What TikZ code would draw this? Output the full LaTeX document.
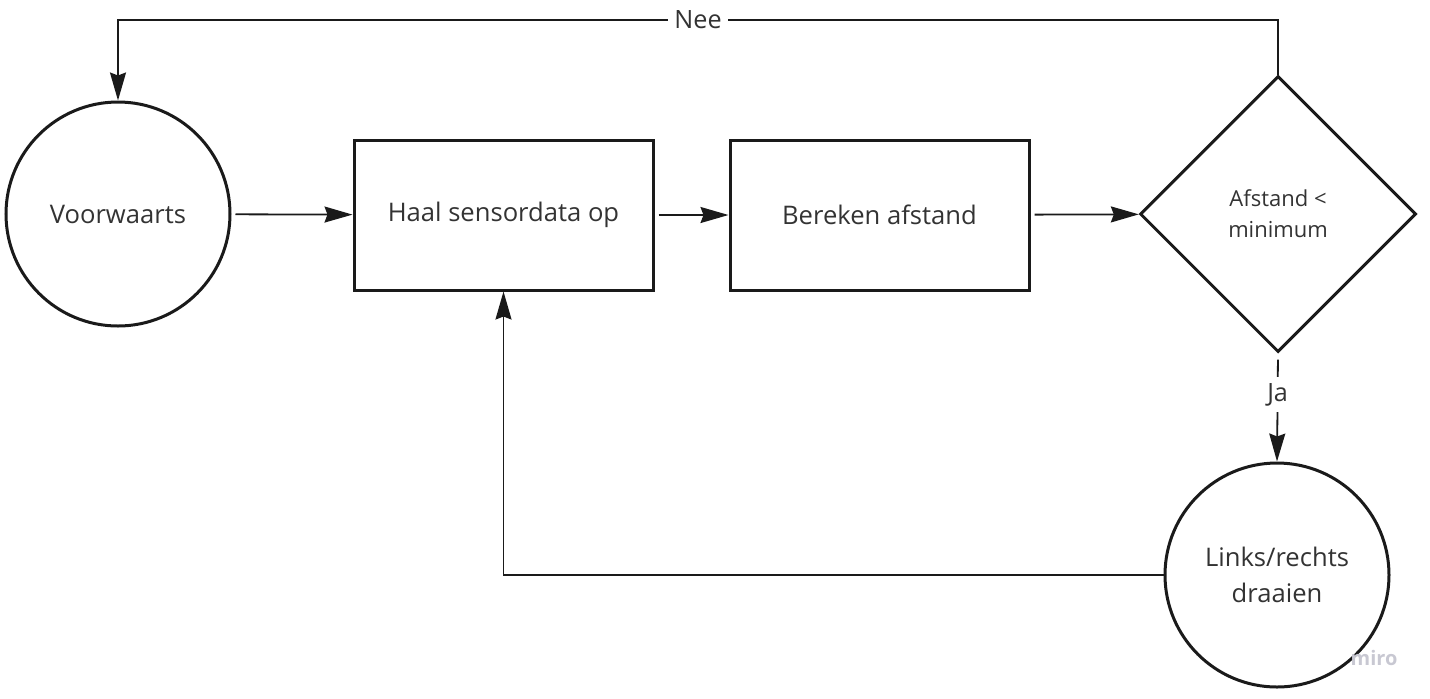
\documentclass[tikz,border=0pt]{standalone}
\usepackage{fontspec}
\setmainfont{Open Sans}
\usetikzlibrary{shapes.geometric,arrows.meta}

\definecolor{inkline}{HTML}{1A1A1A}
\definecolor{inktext}{HTML}{333333}
\definecolor{watermark}{HTML}{C8C8D2}

\begin{document}
\begin{tikzpicture}[
x=0.5pt, y=-0.5pt, % one unit = one pixel of the sketch
flow/.style={draw=inkline, line width=0.9pt, -{Stealth[length=14pt, width=8pt, inset=1.5pt]}},
state/.style={circle, draw=inkline, line width=1.5pt, minimum size=112pt, inner sep=0pt, align=center},
stepbox/.style={rectangle, draw=inkline, line width=1.5pt, minimum width=149.5pt, minimum height=75pt},
choice/.style={diamond, draw=inkline, line width=1.5pt, minimum width=138pt, minimum height=138pt, inner sep=0pt, align=center, font=\fontsize{11}{15.5}\selectfont},
lbl/.style={fill=white, inner sep=3pt, text=inktext, font=\fontsize{12.6}{15}\selectfont},
every node/.style={text=inktext, font=\fontsize{12.8}{18}\selectfont}
]

\useasboundingbox (0,0) rectangle (1430,698);

% ================= Nodes =================
\node[state] (voor) at (118, 214) {Voorwaarts};
\node[stepbox] (haal) at (503.5, 215) {Haal sensordata op};
\node[stepbox] (calc) at (879.5, 215) {Bereken afstand};
\node[choice] (check) at (1278, 214) {Afstand <\\minimum};
\node[state] (turn) at (1277, 575) {Links/rechts\\draaien};

% watermark
\node[text=watermark, font=\bfseries\fontsize{10}{12}\selectfont] (miro) at (1374, 658) {miro};

% ================= Edges =================

% Main row
\draw[flow, shorten <=2pt] (voor) -- (haal);
\draw[flow, shorten <=2pt] (haal) -- (calc);
\draw[flow, shorten <=2pt] (calc) -- (check);

% No: back to the start
\draw[flow] (check.north) -- (check.north |- 0,20)
  -- node[lbl] {Nee} (voor.north |- 0,20) -- (voor.north);

% Yes: turn
\draw[flow, shorten <=3pt] (check.south) -- node[lbl, pos=0.38] {Ja} (turn.north);

% Loop back to the sensor
\draw[flow] (turn.west) -| (haal.south);

\end{tikzpicture}
\end{document}
